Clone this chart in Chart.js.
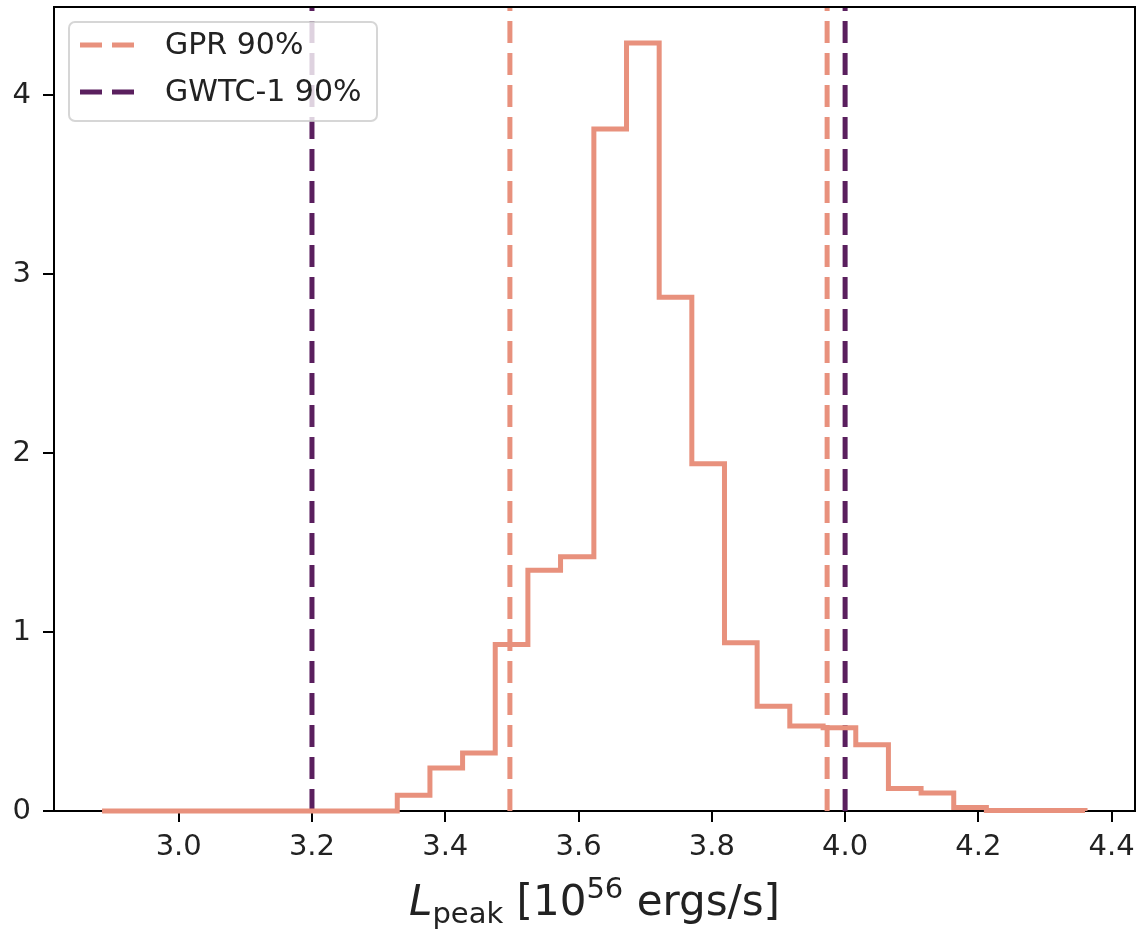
<!DOCTYPE html>
<html>
<head>
<meta charset="utf-8">
<script src="https://cdn.jsdelivr.net/npm/chart.js@4/dist/chart.umd.min.js"></script>
<style>
  html, body { margin: 0; padding: 0; background: #fff; }
  #HistChart { display: block; }
</style>
</head>
<body>
<canvas id="HistChart" width="1138" height="931"></canvas>
<script>
// histogram bin edges (30 bins) and densities
const binEdges = [2.885, 2.934, 2.983, 3.033, 3.082, 3.131, 3.180, 3.229, 3.278, 3.328,
                  3.377, 3.426, 3.475, 3.524, 3.573, 3.623, 3.672, 3.721, 3.770, 3.819,
                  3.868, 3.917, 3.967, 4.016, 4.065, 4.114, 4.163, 4.212, 4.261, 4.311, 4.360];
const binHeights = [0, 0, 0, 0, 0, 0, 0, 0, 0, 0.088,
                    0.24, 0.324, 0.93, 1.345, 1.42, 3.81, 4.29, 2.87, 1.94, 0.94,
                    0.585, 0.475, 0.465, 0.37, 0.125, 0.10, 0.02, 0.003, 0.003, 0.003];
const gprBounds = [3.497, 3.973];
const gwtcBounds = [3.2, 4.0];
const xTicks = [3.0, 3.2, 3.4, 3.6, 3.8, 4.0, 4.2, 4.4];
const yTicks = [0, 1, 2, 3, 4];

const xMin = 2.8129, xMax = 4.435, yMax = 4.4916;
const peach = '#e8917d';
const purple = '#5a1f5e';
const FONT = "'DejaVu Sans', sans-serif";

// step outline like histtype='step': each bin height runs from its left edge to the next edge
const histPoints = [{x: binEdges[0], y: 0}];
binHeights.forEach((h, i) => {
    histPoints.push({x: binEdges[i], y: h});
    histPoints.push({x: binEdges[i + 1], y: h});
});
histPoints.push({x: binEdges[binEdges.length - 1], y: 0});

function vlines(xs) {
    const pts = [];
    xs.forEach((x, i) => {
        if (i > 0) pts.push({x: x, y: null});
        pts.push({x: x, y: 0}, {x: x, y: yMax});
    });
    return pts;
}

const frameAndLegend = {
    id: 'frameAndLegend',
    afterDraw(chart) {
        const c = chart.ctx, a = chart.chartArea;
        c.save();
        // top and right spines
        c.strokeStyle = '#000';
        c.lineWidth = 2;
        c.beginPath();
        c.moveTo(a.left, a.top);
        c.lineTo(a.right, a.top);
        c.lineTo(a.right, a.bottom);
        c.stroke();

        // legend box
        const bx = 69, by = 22, bw = 308, bh = 99, r = 6;
        c.beginPath();
        c.roundRect(bx, by, bw, bh, r);
        c.fillStyle = 'rgba(255,255,255,0.8)';
        c.fill();
        c.strokeStyle = 'rgba(204,204,204,0.8)';
        c.lineWidth = 2;
        c.stroke();
        const entries = chart.data.datasets.filter(d => d.inLegend);
        entries.forEach((d, i) => {
            const y = 45 + i * 47;
            c.strokeStyle = d.borderColor;
            c.lineWidth = d.borderWidth;
            c.setLineDash(d.borderDash);
            c.beginPath();
            c.moveTo(80, y);
            c.lineTo(135, y);
            c.stroke();
            c.setLineDash([]);
            c.fillStyle = '#222';
            c.font = '30px ' + FONT;
            c.textBaseline = 'middle';
            c.textAlign = 'left';
            c.fillText(d.label, 165, y + 1);
        });

        // x axis label: L_peak [10^56 ergs/s]
        const parts = [
            {t: 'L', f: 'oblique 42px ' + FONT, dy: 0},
            {t: 'peak', f: '29px ' + FONT, dy: 8},
            {t: ' [10', f: '42px ' + FONT, dy: 0},
            {t: '56', f: '29px ' + FONT, dy: -17},
            {t: ' ergs/s]', f: '42px ' + FONT, dy: 0}
        ];
        let total = 0;
        parts.forEach(p => { c.font = p.f; p.w = c.measureText(p.t).width; total += p.w; });
        let x = (a.left + a.right) / 2 - total / 2;
        const base = 915;
        c.fillStyle = '#222';
        c.textBaseline = 'alphabetic';
        parts.forEach(p => {
            c.font = p.f;
            c.fillText(p.t, x, base + p.dy);
            x += p.w;
        });
        c.restore();
    }
};

new Chart(document.getElementById('HistChart').getContext('2d'), {
    type: 'line',
    data: {
        datasets: [{
            label: 'hist',
            data: histPoints,
            borderColor: peach,
            borderWidth: 5,
            borderJoinStyle: 'miter',
            tension: 0,
            pointRadius: 0,
            fill: false,
            clip: 6
        }, {
            label: 'GPR 90%',
            inLegend: true,
            data: vlines(gprBounds),
            borderColor: peach,
            borderWidth: 5,
            borderDash: [22, 10],
            pointRadius: 0,
            spanGaps: false,
            fill: false
        }, {
            label: 'GWTC-1 90%',
            inLegend: true,
            data: vlines(gwtcBounds),
            borderColor: purple,
            borderWidth: 5,
            borderDash: [22, 10],
            pointRadius: 0,
            spanGaps: false,
            fill: false
        }]
    },
    options: {
        responsive: false,
        animation: false,
        devicePixelRatio: 1,
        layout: { padding: { top: 7, right: 3, left: 0, bottom: 0 } },
        plugins: {
            legend: { display: false },
            tooltip: { enabled: false }
        },
        scales: {
            x: {
                type: 'linear',
                min: xMin,
                max: xMax,
                afterFit: s => { s.height = 120; s.paddingLeft = 0; s.paddingRight = 0; },
                afterBuildTicks: s => { s.ticks = xTicks.map(v => ({value: v})); },
                border: { display: true, color: '#000', width: 2 },
                grid: { display: true, drawOnChartArea: false, drawTicks: true, tickLength: 11, color: '#000', lineWidth: 2 },
                ticks: {
                    color: '#222',
                    font: { family: FONT, size: 29 },
                    padding: 8,
                    maxRotation: 0,
                    callback: v => v.toFixed(1)
                }
            },
            y: {
                type: 'linear',
                min: 0,
                max: yMax,
                afterFit: s => { s.width = 54; s.paddingTop = 0; s.paddingBottom = 0; },
                afterBuildTicks: s => { s.ticks = yTicks.map(v => ({value: v})); },
                border: { display: true, color: '#000', width: 2 },
                grid: { display: true, drawOnChartArea: false, drawTicks: true, tickLength: 11, color: '#000', lineWidth: 2 },
                ticks: {
                    color: '#222',
                    font: { family: FONT, size: 29 },
                    padding: 12,
                    callback: v => String(v)
                }
            }
        }
    },
    plugins: [frameAndLegend]
});
</script>
</body>
</html>
